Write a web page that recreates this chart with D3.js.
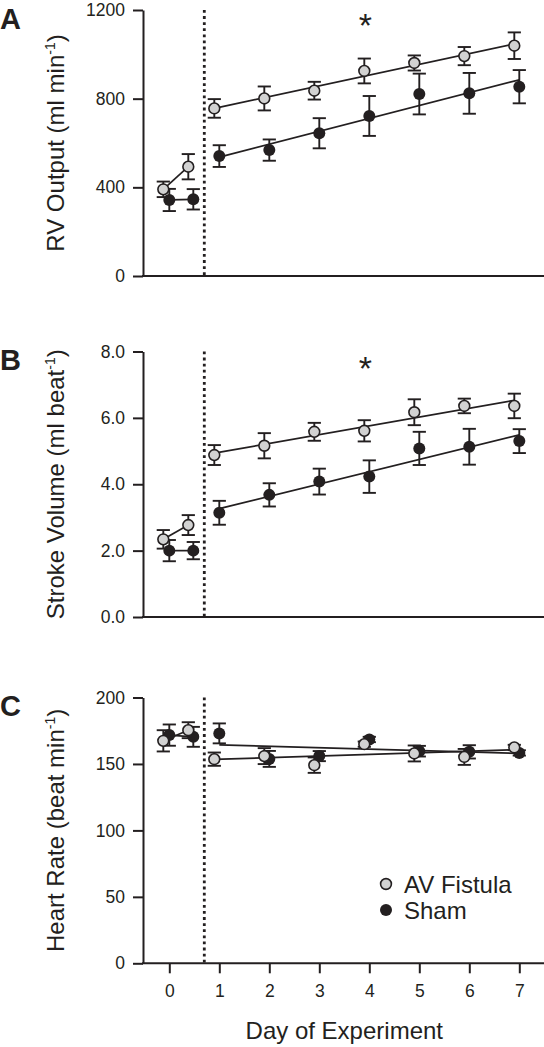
<!DOCTYPE html>
<html><head><meta charset="utf-8">
<script src="https://cdn.jsdelivr.net/npm/d3@7"></script>
<style>
body{margin:0;background:#fff}
svg{display:block}
text{font-family:"Liberation Sans",Arial,Helvetica,sans-serif;fill:#231f20}
</style>
</head><body>
<svg id="chart" width="544" height="1047"></svg>
<script>
// ---------- data ----------
const dayTicks = [0, 1, 2, 3, 4, 5, 6, 7];
const avX   = [-0.12, 0.38, 0.9, 1.9, 2.9, 3.9, 4.9, 5.9, 6.9];
const shamX = [0, 0.48, 1, 2, 3, 4, 5, 6, 7];
const surgeryDay = 0.7;
const starDay = 3.92;

// Panel A: RV output (ml/min)
const rvAV       = [391, 493, 756, 801, 836, 925, 961, 992, 1039];
const rvAVErr    = [35, 57, 42, 54, 40, 56, 34, 41, 60];
const rvSham     = [343, 346, 541, 568, 644, 722, 821, 824, 854];
const rvShamErr  = [50, 46, 49, 48, 68, 90, 92, 92, 75];
const rvTicks    = [0, 400, 800, 1200];

// Panel B: Stroke volume (ml/beat)
const svAV       = [2.34, 2.77, 4.88, 5.16, 5.58, 5.61, 6.17, 6.36, 6.36];
const svAVErr    = [0.28, 0.30, 0.30, 0.38, 0.27, 0.32, 0.39, 0.22, 0.37];
const svSham     = [2.0, 2.0, 3.14, 3.68, 4.08, 4.23, 5.08, 5.13, 5.30];
const svShamErr  = [0.32, 0.26, 0.36, 0.35, 0.39, 0.49, 0.50, 0.54, 0.36];
const svTicks    = [0, 2, 4, 6, 8];

// Panel C: Heart rate (beat/min)
const hrAV       = [167.4, 175.4, 153.6, 155.9, 149.1, 164.9, 157.9, 155.3, 162.4];
const hrAVErr    = [8, 6, 5, 6, 5.8, 2, 6, 6, 2];
const hrSham     = [171.7, 170.4, 173, 153.8, 155.9, 168.4, 159.6, 159.1, 158.3];
const hrShamErr  = [8, 7.5, 7.5, 6, 3.8, 2, 4, 5, 2];
const hrTicks    = [0, 50, 100, 150, 200];

const seriesNames = ["AV Fistula", "Sham"];

// ---------- drawing ----------
const svg = d3.select("#chart");
const ink = "#231f20";
const grayFill = "#d2d2d2";
const axisX0 = 143, axisX1 = 544;
const rAV = 5.4, rSham = 6.0;
const x = d3.scaleLinear().domain([0, 7]).range([169.3, 519.3]);

function linfit(xs, ys) {
  const n = xs.length, mx = d3.mean(xs), my = d3.mean(ys);
  let sxy = 0, sxx = 0;
  for (let i = 0; i < n; i++) { sxy += (xs[i]-mx)*(ys[i]-my); sxx += (xs[i]-mx)**2; }
  const b = sxy / sxx, a = my - b*mx;
  return t => a + b*t;
}

function panel(cfg) {
  const y = d3.scaleLinear().domain([cfg.ticks[0], cfg.ticks[cfg.ticks.length-1]]).range([cfg.bottom, cfg.top]);
  const g = svg.append("g");

  // y axis
  const ya = g.append("g").attr("transform", `translate(${axisX0},0)`)
    .call(d3.axisLeft(y).tickValues(cfg.ticks).tickSize(10).tickSizeOuter(0).tickPadding(8).tickFormat(cfg.fmt));
  ya.select(".domain").attr("stroke", ink).attr("stroke-width", 2);
  ya.selectAll(".tick line").attr("stroke", ink).attr("stroke-width", 2);
  ya.selectAll(".tick text").attr("font-size", 17.5).attr("fill", ink)
    .style("font-family", '"Liberation Sans",Arial,sans-serif');

  // x axis baseline
  g.append("line").attr("x1", axisX0 - 1).attr("x2", axisX1).attr("y1", y(0)).attr("y2", y(0))
    .attr("stroke", ink).attr("stroke-width", 2);
  if (cfg.xTicks) {
    const xa = g.append("g").attr("transform", `translate(0,${y(0)})`)
      .call(d3.axisBottom(x).tickValues(dayTicks).tickFormat(d3.format("d"))
        .tickSize(10).tickSizeOuter(0).tickPadding(11));
    xa.select(".domain").remove();
    xa.selectAll(".tick line").attr("stroke", ink).attr("stroke-width", 2);
    xa.selectAll(".tick text").attr("font-size", 17.5).attr("fill", ink)
      .style("font-family", '"Liberation Sans",Arial,sans-serif');
    g.append("text").attr("x", x(3.5)).attr("y", 1039).attr("text-anchor", "middle")
      .attr("font-size", 24).text("Day of Experiment");
  }

  // dotted surgery line
  g.append("line").attr("x1", x(surgeryDay)).attr("x2", x(surgeryDay))
    .attr("y1", cfg.top).attr("y2", y(0))
    .attr("stroke", ink).attr("stroke-width", 2.8)
    .attr("stroke-dasharray", "2.8,3.3");

  // y title
  const t = g.append("text")
    .attr("transform", `translate(64,${(cfg.top+cfg.bottom)/2}) rotate(-90)`)
    .attr("text-anchor", "middle").attr("font-size", 24);
  t.append("tspan").text(cfg.title[0]);
  t.append("tspan").attr("font-size", 14).attr("dy", -9).text(cfg.title[1]);
  t.append("tspan").attr("dy", 9).text(cfg.title[2]);

  // panel letter
  g.append("text").attr("x", 0).attr("y", cfg.top + 18.5).attr("font-size", 29)
    .attr("font-weight", "bold").text(cfg.letter);

  // star
  if (cfg.star !== undefined) {
    g.append("text").attr("x", x(starDay)).attr("y", y(cfg.star) + 19.5)
      .attr("text-anchor", "middle").attr("font-size", 34).text("*");
  }

  const series = [
    {xs: shamX, ys: cfg.sham, err: cfg.shamErr, fill: ink, stroke: "none", r: rSham},
    {xs: avX, ys: cfg.av, err: cfg.avErr, fill: grayFill, stroke: ink, r: rAV}
  ];

  // lines: baseline connection + regression
  series.forEach(s => {
    g.append("line").attr("x1", x(s.xs[0])).attr("y1", y(s.ys[0]))
      .attr("x2", x(s.xs[1])).attr("y2", y(s.ys[1]))
      .attr("stroke", ink).attr("stroke-width", 1.7);
    const px = s.xs.slice(2), py = s.ys.slice(2);
    const f = linfit(px, py);
    g.append("line").attr("x1", x(px[0])).attr("y1", y(f(px[0])))
      .attr("x2", x(px[px.length-1])).attr("y2", y(f(px[px.length-1])))
      .attr("stroke", ink).attr("stroke-width", 1.7);
  });

  // error bars and markers
  series.forEach(s => {
    const eg = g.append("g");
    s.xs.forEach((xv, i) => {
      const cx = x(xv), y1 = y(s.ys[i] + s.err[i]), y2 = y(s.ys[i] - s.err[i]);
      eg.append("line").attr("x1", cx).attr("x2", cx).attr("y1", y1).attr("y2", y2)
        .attr("stroke", ink).attr("stroke-width", 1.9);
      [y1, y2].forEach(yy => eg.append("line").attr("x1", cx - 6.6).attr("x2", cx + 6.6)
        .attr("y1", yy).attr("y2", yy).attr("stroke", ink).attr("stroke-width", 1.9));
    });
    g.append("g").selectAll("circle").data(s.ys).join("circle")
      .attr("cx", (d, i) => x(s.xs[i])).attr("cy", d => y(d)).attr("r", s.r)
      .attr("fill", s.fill).attr("stroke", s.stroke).attr("stroke-width", 1.6);
  });

  return y;
}

panel({letter: "A", ticks: rvTicks, top: 10, bottom: 276, fmt: d3.format("d"),
  title: ["RV Output (ml min", "-1", ")"], av: rvAV, avErr: rvAVErr, sham: rvSham, shamErr: rvShamErr, star: 1167});
panel({letter: "B", ticks: svTicks, top: 351.5, bottom: 617, fmt: d3.format(".1f"),
  title: ["Stroke Volume (ml beat", "-1", ")"], av: svAV, avErr: svAVErr, sham: svSham, shamErr: svShamErr, star: 7.72});
panel({letter: "C", ticks: hrTicks, top: 697.5, bottom: 963.3, fmt: d3.format("d"), xTicks: true,
  title: ["Heart Rate (beat min", "-1", ")"], av: hrAV, avErr: hrAVErr, sham: hrSham, shamErr: hrShamErr});

// legend
const legend = svg.append("g");
const legY = [884, 910];
seriesNames.forEach((name, i) => {
  legend.append("circle").attr("cx", 386).attr("cy", legY[i]).attr("r", i === 0 ? rAV : rSham)
    .attr("fill", i === 0 ? grayFill : ink).attr("stroke", i === 0 ? ink : "none").attr("stroke-width", 1.6);
  legend.append("text").attr("x", 404).attr("y", legY[i]).attr("dy", "0.36em")
    .attr("font-size", 24).text(name);
});
</script>
</body></html>
